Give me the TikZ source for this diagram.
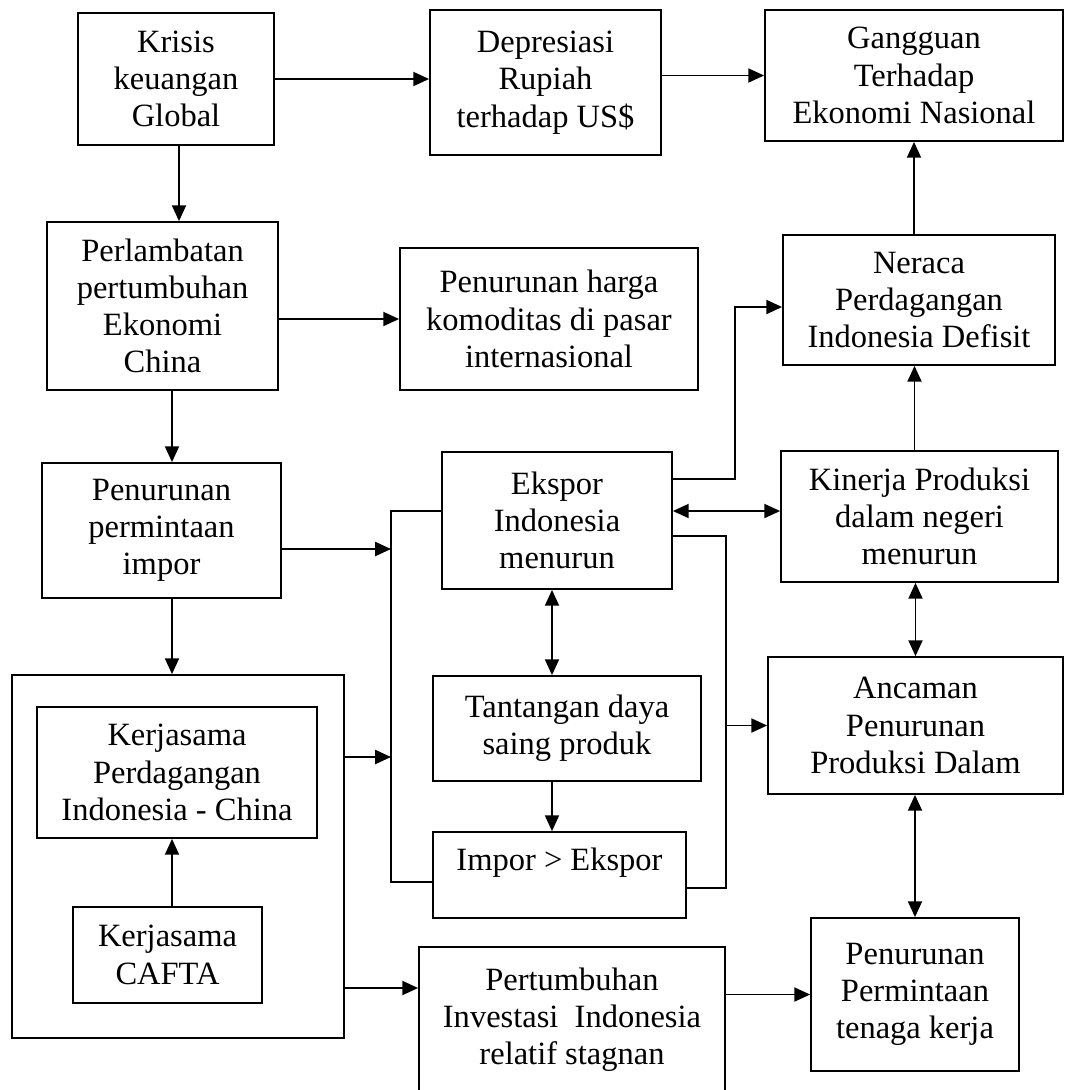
\documentclass[tikz,border=0pt]{standalone}
\usepackage{fontspec}
\setmainfont{Liberation Serif}
\usetikzlibrary{arrows.meta,calc}
\def\satuan{0.02cm}
\tikzset{
  kotak/.style={
    rectangle,
    draw=black,
    line width=1pt,
    align=center,
    inner sep=2pt,
    font=\fontsize{18.5}{21.2}\selectfont
  },
  ukuran/.style 2 args={
    minimum width=#1*\satuan,
    minimum height=#2*\satuan
  }
}

\begin{document}
\begin{tikzpicture}[x=\satuan, y=-\satuan, >={Triangle[length=9pt,width=8pt]}, line width=1pt]
    \useasboundingbox (0,0) rectangle (1065,1090);

    %% Row 1
    \node[kotak, ukuran={196}{132}] (krisis) at (176,79) {Krisis\\keuangan\\Global};
    \node[kotak, ukuran={231}{145}] (depresiasi) at (545.5,82.5) {Depresiasi\\Rupiah\\terhadap US\$};
    \node[kotak, ukuran={298}{131}] (gangguan) at (914,75.5) {Gangguan\\Terhadap\\Ekonomi Nasional};

    %% Row 2
    \node[kotak, ukuran={231}{168}] (perlambatan) at (162.5,306) {Perlambatan\\pertumbuhan\\Ekonomi\\China};
    \node[kotak, ukuran={298}{142}] (harga) at (549,319) {Penurunan harga\\komoditas di pasar\\internasional};
    \node[kotak, ukuran={272}{130}] (neraca) at (919,300) {Neraca\\Perdagangan\\Indonesia Defisit};

    %% Row 3
    \node[kotak, ukuran={239}{135}] (impor) at (161.5,530.5) {Penurunan\\permintaan\\impor};
    \node[kotak, ukuran={230}{137}] (ekspor) at (557,520.5) {Ekspor\\Indonesia\\menurun};
    \node[kotak, ukuran={277}{131}] (kinerja) at (919.5,516.5) {Kinerja Produksi\\dalam negeri\\menurun};

    %% Kerjasama (kotak luar)
    \node[kotak, ukuran={332}{363}] (luar) at (178,856.5) {};
    \node[kotak, ukuran={280}{131}] (kerjasama) at (177,772.5) {Kerjasama\\Perdagangan\\Indonesia - China};
    \node[kotak, ukuran={189}{96}] (cafta) at (167.5,955) {Kerjasama\\CAFTA};

    %% Middle column
    \node[kotak, ukuran={268}{105}] (tantangan) at (567,728.5) {Tantangan daya\\saing produk};
    \node[kotak, ukuran={253}{86}, text depth=18pt] (imporekspor) at (559.5,875) {Impor > Ekspor};
    \node[kotak, ukuran={295}{137}] (ancaman) at (915.5,725.5) {Ancaman\\Penurunan\\Produksi Dalam};

    %% Bottom row
    \node[kotak, ukuran={306}{145}] (investasi) at (572,1019.5) {Pertumbuhan\\Investasi\ \ Indonesia\\relatif stagnan};
    \node[kotak, ukuran={208}{153}] (tenagakerja) at (915,994.5) {Penurunan\\Permintaan\\tenaga kerja};

    %% Invisible nodes
    \coordinate (kiri) at (391,0);
    \coordinate (kanan1) at (735,0);
    \coordinate (kanan2) at (726,0);

    %% Edges
    % Top row
    \draw[->] (krisis.east) -- (krisis.east -| depresiasi.west);
    \draw[->] (gangguan.west -| depresiasi.east) -- (gangguan.west);
    \draw[->] ([xshift=3*\satuan]krisis.south) -- ([xshift=3*\satuan]krisis.south |- perlambatan.north);
    \draw[->] (harga.west -| perlambatan.east) -- (harga.west);

    % Left column
    \draw[->] ([xshift=10.5*\satuan]impor.north |- perlambatan.south) -- ([xshift=10.5*\satuan]impor.north);
    \draw[->] ([xshift=10.5*\satuan]impor.south) -- ([xshift=10.5*\satuan]impor.south |- luar.north);
    \draw[->] ([xshift=4.5*\satuan]cafta.north) -- ([xshift=4.5*\satuan]cafta.north |- kerjasama.south);

    % Left bracket
    \draw ([yshift=9.5*\satuan]ekspor.west) -| ([yshift=-7*\satuan]imporekspor.west -| kiri) -- ([yshift=-7*\satuan]imporekspor.west);
    \draw[->] ([yshift=-18.5*\satuan]impor.east) -- ([yshift=-18.5*\satuan]impor.east -| kiri);
    \draw[->] ([yshift=99.5*\satuan]luar.east) -- ([yshift=99.5*\satuan]luar.east -| kiri);
    \draw[->] ([yshift=-131.5*\satuan]luar.east) -- ([yshift=-131.5*\satuan]luar.east -| investasi.west);

    % Ekspor
    \draw[<->] ([xshift=-5*\satuan]ekspor.south) -- ([xshift=-5*\satuan]ekspor.south |- tantangan.north);
    \draw[->] ([xshift=-15*\satuan]tantangan.south) -- ([xshift=-15*\satuan]tantangan.south |- imporekspor.north);
    \draw[<->] ([yshift=9.5*\satuan]ekspor.east) -- ([yshift=9.5*\satuan]ekspor.east -| kinerja.west);
    \draw[->] ([yshift=41.5*\satuan]ekspor.east) -| ([yshift=-7*\satuan]neraca.west -| kanan1) -- ([yshift=-7*\satuan]neraca.west);

    % Right bracket
    \draw ([yshift=-15.5*\satuan]ekspor.east) -| ([yshift=-13*\satuan]imporekspor.east -| kanan2) -- ([yshift=-13*\satuan]imporekspor.east);
    \draw[->] (ancaman.west -| kanan2) -- (ancaman.west);

    % Right column
    \draw[<->] (kinerja.south -| ancaman.north) -- (ancaman.north);
    \draw[->] ([xshift=-5*\satuan]kinerja.north) -- ([xshift=-5*\satuan]kinerja.north |- neraca.south);
    \draw[->] ([xshift=-5*\satuan]neraca.north) -- ([xshift=-5*\satuan]neraca.north |- gangguan.south);
    \draw[<->] (ancaman.south -| tenagakerja.north) -- (tenagakerja.north);
    \draw[->] (tenagakerja.west -| investasi.east) -- (tenagakerja.west);

\end{tikzpicture}
\end{document}
